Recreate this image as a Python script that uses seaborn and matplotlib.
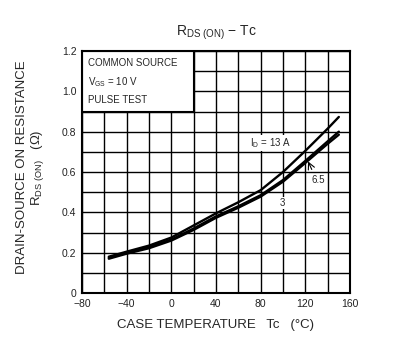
import numpy as np
import pandas as pd
import matplotlib
matplotlib.use("Agg")
import matplotlib.pyplot as plt
from matplotlib.patches import Rectangle
import seaborn as sns

# ---- data ----
temps = [-56, -40, -20, 0, 20, 40, 60, 80, 100, 120, 140, 150]
r_13a = [0.18, 0.205, 0.235, 0.275, 0.335, 0.395, 0.45, 0.51, 0.60, 0.705, 0.815, 0.873]
r_6p5a = [0.175, 0.20, 0.228, 0.265, 0.32, 0.38, 0.43, 0.485, 0.56, 0.655, 0.752, 0.80]
r_3a = [0.17, 0.195, 0.222, 0.26, 0.313, 0.373, 0.423, 0.478, 0.552, 0.645, 0.74, 0.785]
series_names = ["13", "6.5", "3"]
x_ticks = [-80, -40, 0, 40, 80, 120, 160]
y_ticks = [0, 0.2, 0.4, 0.6, 0.8, 1.0, 1.2]
y_tick_labels = ["0", "0.2", "0.4", "0.6", "0.8", "1.0", "1.2"]
x_tick_labels = ["\u221280", "\u221240", "0", "40", "80", "120", "160"]

df = pd.concat([
    pd.DataFrame({"T": temps, "R": vals, "ID": name})
    for name, vals in zip(series_names, [r_13a, r_6p5a, r_3a])
])

sns.set_theme(style="white")
plt.rcParams["font.family"] = ["Liberation Sans", "DejaVu Sans"]
plt.rcParams["mathtext.fontset"] = "custom"
plt.rcParams["mathtext.rm"] = "Liberation Sans"
plt.rcParams["mathtext.it"] = "Liberation Sans"

fig = plt.figure(figsize=(4.03, 3.44), dpi=100)
ax = fig.add_axes([82/403, 1-293/344, 268/403, 242/344])

sns.lineplot(data=df, x="T", y="R", hue="ID", palette=["black"]*3,
             linewidth=1.7, sort=False, legend=False, ax=ax, zorder=3)

ax.set_xlim(-80, 160)
ax.set_ylim(0, 1.2)
ax.set_xticks(x_ticks)
ax.set_xticklabels(x_tick_labels)
ax.set_yticks(y_ticks)
ax.set_yticklabels(y_tick_labels)
ax.set_xticks(np.arange(-80, 161, 20), minor=True)
ax.set_yticks(np.arange(0, 1.21, 0.1), minor=True)
ax.grid(True, which="both", color="black", linewidth=1.0)
ax.set_axisbelow(True)
ax.tick_params(which="both", length=0, labelsize=7.5, colors="#222222")
ax.tick_params(axis="x", pad=4)
ax.tick_params(axis="y", pad=4)
for s in ax.spines.values():
    s.set_color("black")
    s.set_linewidth(1.5)
ax.set_xlabel("")
ax.set_ylabel("")

# condition box
ax.add_patch(Rectangle((-80, 0.9), 100, 0.3, facecolor="white", edgecolor="black",
                       linewidth=1.5, zorder=2.5))
ax.text(-74.5, 1.14, "COMMON SOURCE", fontsize=7, va="center", ha="left", zorder=4)
ax.text(-74.5, 1.046, r"$\mathregular{V_{GS}}$ = 10 V", fontsize=7, va="center", ha="left", zorder=4)
ax.text(-74.5, 0.957, "PULSE TEST", fontsize=7, va="center", ha="left", zorder=4)

# curve labels
bb = dict(facecolor="white", edgecolor="none", pad=1)
ax.text(89, 0.744, r"$\mathregular{I_D}$ = 13 A", fontsize=7, ha="center", va="center", bbox=bb, zorder=4)
ax.text(131.3, 0.56, "6.5", fontsize=7, ha="center", va="center", bbox=bb, zorder=4)
ax.text(99, 0.446, "3", fontsize=7, ha="center", va="center", bbox=bb, zorder=4)
ax.annotate("", xy=(121.4, 0.665), xytext=(126.8, 0.60),
            arrowprops=dict(arrowstyle="->", color="black", lw=0.8), zorder=4)

fig.text(216/403, 1-33/344, r"$\mathregular{R_{DS\ (ON)}}$ \u2212 Tc".replace("\\u2212", "\u2212"),
         fontsize=10, ha="center", va="center")
fig.text(215/403, 1-325/344, "CASE TEMPERATURE   Tc   (\u00b0C)", fontsize=9.5,
         ha="center", va="center")
fig.text(22/403, 1-167/344, "DRAIN-SOURCE ON RESISTANCE", fontsize=9.5,
         rotation=90, ha="center", va="center")
fig.text(38/403, 1-168/344, r"$\mathregular{R_{DS\ (ON)}}$   ($\Omega$)", fontsize=9.5,
         rotation=90, ha="center", va="center")

fig.savefig("out.png", dpi=100)
